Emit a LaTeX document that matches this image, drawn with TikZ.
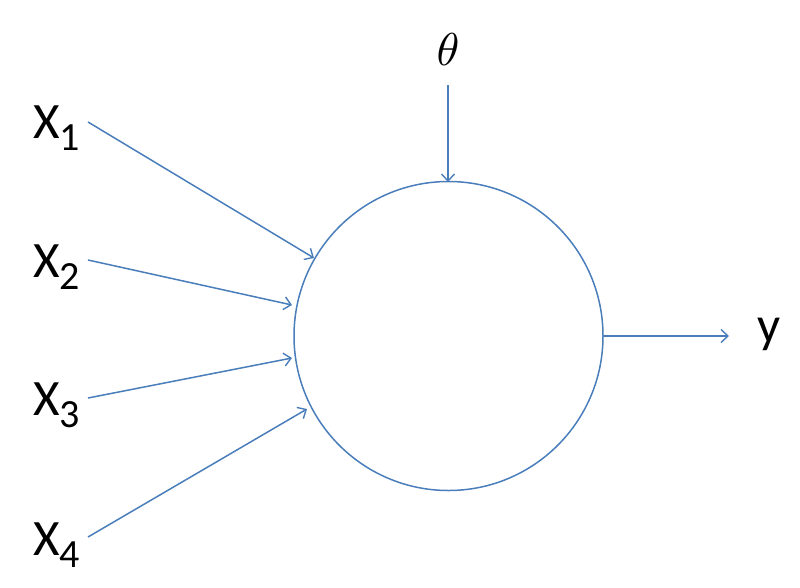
\documentclass[tikz,border=0pt]{standalone}
\usepackage{fontspec}
\setmainfont{Carlito}
\usetikzlibrary{arrows.meta}
\definecolor{lineblue}{HTML}{4A7EBB}
\tikzset{
  conn/.style={draw=lineblue, line width=1.5pt, -{Straight Barb[length=7pt,width=13pt,line width=1.4pt]}},
  xlab/.style={anchor=base west, inner sep=0pt, font=\fontsize{51}{51}\selectfont},
}
\newcommand{\xsub}[1]{X\raisebox{-12pt}{\fontsize{40}{40}\selectfont #1}}
\begin{document}
\begin{tikzpicture}[x=1pt,y=-1pt]
\useasboundingbox (0,0) rectangle (800,587);
\node[draw=lineblue, line width=1.5pt, circle, minimum size=309pt, inner sep=0pt] (n) at (448.5,336) {};
\node[xlab] (x1) at (33,138) {\xsub{1}};
\node[xlab] (x2) at (33,277) {\xsub{2}};
\node[xlab] (x3) at (33,415) {\xsub{3}};
\node[xlab] (x4) at (33,555) {\xsub{4}};
\node[anchor=base, inner sep=0pt] (th) at (448,65) {\scalebox{4.6}{$\theta$}};
\node[anchor=base west, inner sep=0pt, font=\fontsize{51}{51}\selectfont] (y) at (757,342) {y};
\coordinate (s1) at (88,122); \coordinate (e1) at (314,258);
\coordinate (s2) at (88,260); \coordinate (e2) at (292,305);
\coordinate (s3) at (88,398); \coordinate (e3) at (292,358);
\coordinate (s4) at (88,537); \coordinate (e4) at (307,409);
\coordinate (st) at (448,85); \coordinate (et) at (448,182);
\coordinate (sy) at (603,336); \coordinate (ey) at (729,336);
\draw[conn] (s1) -- (e1);
\draw[conn] (s2) -- (e2);
\draw[conn] (s3) -- (e3);
\draw[conn] (s4) -- (e4);
\draw[conn] (st) -- (et);
\draw[conn] (sy) -- (ey);
\end{tikzpicture}
\end{document}
